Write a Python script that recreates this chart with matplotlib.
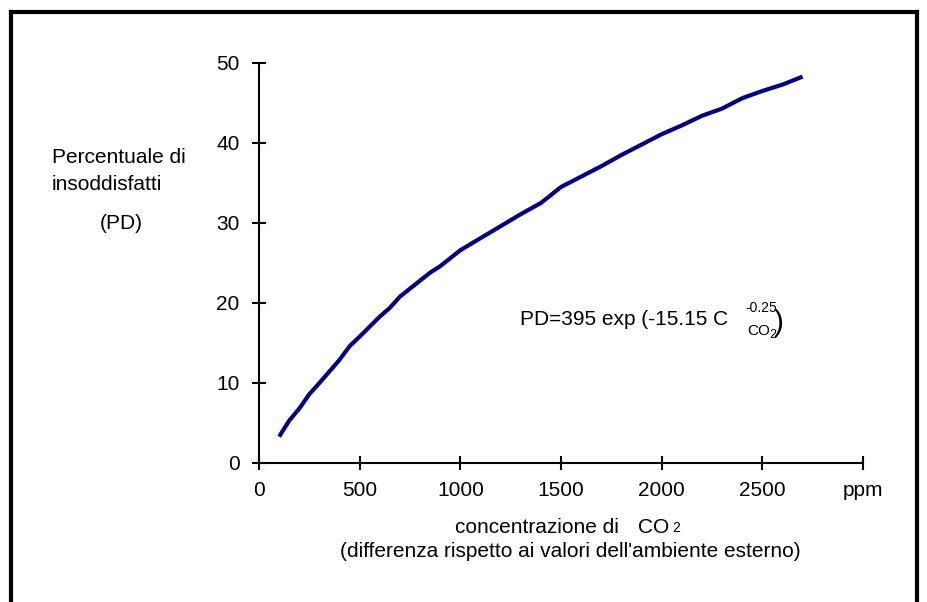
import matplotlib
matplotlib.use('Agg')
import matplotlib.pyplot as plt
from matplotlib.lines import Line2D

plt.rcParams['font.family'] = ['Liberation Sans', 'DejaVu Sans']

# dati
co2_ppm = [100, 150, 200, 250, 300, 400, 450, 500, 600, 650, 700, 800, 850, 900,
           1000, 1100, 1200, 1300, 1400, 1500, 1600, 1700, 1800, 1900, 2000,
           2100, 2200, 2300, 2400, 2500, 2600, 2700]
pd_perc = [3.3, 5.3, 6.8, 8.6, 10.0, 12.9, 14.6, 15.8, 18.3, 19.4, 20.8, 22.8, 23.8, 24.6,
           26.6, 28.1, 29.6, 31.1, 32.5, 34.5, 35.8, 37.1, 38.5, 39.8, 41.1,
           42.2, 43.4, 44.3, 45.6, 46.5, 47.3, 48.3]
x_ticks = [0, 500, 1000, 1500, 2000, 2500, 3000]
x_labels = ['0', '500', '1000', '1500', '2000', '2500', 'ppm']
y_ticks = [0, 10, 20, 30, 40, 50]

W, H = 927, 602
def fx(px): return px / W
def fy(py): return 1 - py / H

fig = plt.figure(figsize=(9.27, 6.02), dpi=100)
ax = fig.add_axes([fx(259), fy(463), (863 - 259) / W, (463 - 63) / H])

ax.plot(co2_ppm, pd_perc, color='#000080', linewidth=3, solid_capstyle='butt')

ax.set_xlim(0, 3000)
ax.set_ylim(0, 50)
ax.set_xticks(x_ticks)
ax.set_xticklabels(x_labels)
ax.set_yticks(y_ticks)
for s in ['top', 'right']:
    ax.spines[s].set_visible(False)
for s in ['left', 'bottom']:
    ax.spines[s].set_linewidth(1.5)
ax.tick_params(direction='inout', length=10, width=1.5, labelsize=15)
ax.tick_params(axis='x', pad=8)
ax.tick_params(axis='y', pad=9)
ax.set_facecolor('none')

fs = 15
# etichetta asse y
fig.text(fx(52), fy(163), 'Percentuale di', fontsize=fs, va='baseline', ha='left')
fig.text(fx(52), fy(190), 'insoddisfatti', fontsize=fs, va='baseline', ha='left')
fig.text(fx(100), fy(229), '(PD)', fontsize=fs, va='baseline', ha='left')

# etichetta asse x
fig.text(fx(455), fy(533), 'concentrazione di', fontsize=fs, va='baseline', ha='left')
fig.text(fx(638), fy(533), 'CO', fontsize=fs, va='baseline', ha='left')
fig.text(fx(672), fy(532), '2', fontsize=10, va='baseline', ha='left')
fig.text(fx(801), fy(557), "(differenza rispetto ai valori dell'ambiente esterno)",
         fontsize=fs, va='baseline', ha='right')

# formula
fig.text(fx(520), fy(325), 'PD=395 exp (-15.15 C', fontsize=fs, va='baseline', ha='left')
fig.text(fx(745), fy(312), '-0.25', fontsize=10, va='baseline', ha='left')
fig.text(fx(747), fy(335), 'CO', fontsize=11, va='baseline', ha='left')
fig.text(fx(769), fy(338), '2', fontsize=9, va='baseline', ha='left')
fig.text(fx(774), fy(331), ')', fontsize=21, va='baseline', ha='left')

# cornice
for xs, ys in [([fx(11), fx(917)], [fy(12), fy(12)]),
               ([fx(11), fx(11)], [0, fy(12)]),
               ([fx(917), fx(917)], [0, fy(12)])]:
    fig.add_artist(Line2D(xs, ys, color='black', linewidth=3,
                          solid_capstyle='projecting', transform=fig.transFigure))

fig.savefig('out.png', dpi=100)
